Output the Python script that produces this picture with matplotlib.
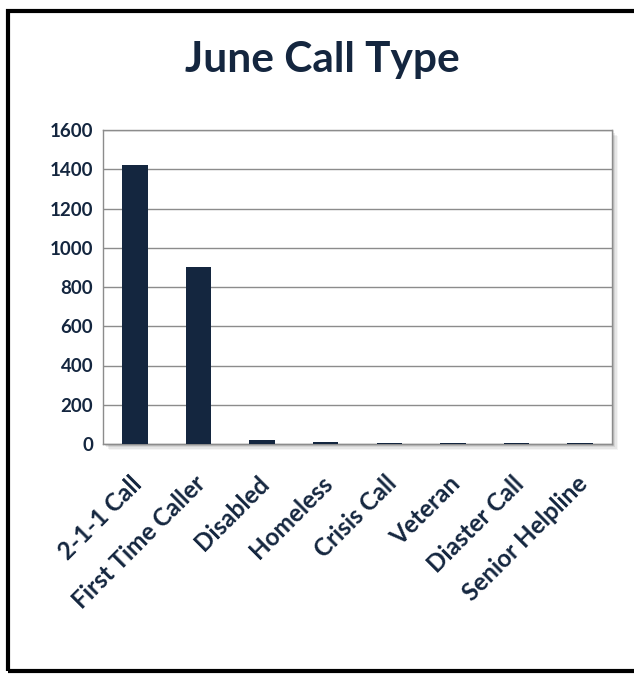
import matplotlib
matplotlib.use("Agg")
import matplotlib.pyplot as plt
from matplotlib.patches import Rectangle
from matplotlib.transforms import ScaledTranslation

categories = ["2-1-1 Call", "First Time Caller", "Disabled", "Homeless",
              "Crisis Call", "Veteran", "Diaster Call", "Senior Helpline"]
values = [1420, 902, 20, 12, 5, 5, 5, 5]
yticks = [0, 200, 400, 600, 800, 1000, 1200, 1400, 1600]

navy = "#14263f"
plt.rcParams['font.family'] = ['Lato', 'DejaVu Sans']

fig = plt.figure(figsize=(6.34, 6.75), dpi=100)
# outer frame
fig.patches.append(Rectangle((8/634, 4/675), 640/634, 660/675, transform=fig.transFigure,
                             fill=False, edgecolor="black", linewidth=3, zorder=-2))
fig.patches.append(Rectangle((8/634, 2/675), 640/634, 3/675, transform=fig.transFigure,
                             facecolor="black", edgecolor="none", zorder=-2))

l, b, w, h = 103/634, 1-444/675, (612-103)/634, (444-130)/675
# shadow of plot area
for i, a in enumerate([0.10, 0.08, 0.06, 0.04]):
    off = (i + 1) * 1.5
    fig.patches.append(Rectangle((l + off/634, b - off/675), w, h, transform=fig.transFigure,
                                 facecolor="black", alpha=a, edgecolor="none", zorder=-1))
ax = fig.add_axes([l, b, w, h])
ax.set_zorder(1)
ax.set_facecolor("white")
x = range(len(categories))
ax.bar(x, values, width=0.4, color=navy, zorder=3)
ax.set_xlim(-0.5, len(categories) - 0.5)
ax.set_ylim(0, 1600)
ax.set_yticks(yticks)
ax.set_yticklabels([str(v) for v in yticks], fontsize=13.5, fontweight='bold', color=navy)
ax.set_xticks(list(x))
ax.set_xticklabels(categories, rotation=45, ha='right', rotation_mode='anchor',
                   fontsize=17.5, fontweight='bold', color=navy)
ax.tick_params(axis='y', length=0, pad=7)
ax.tick_params(axis='x', length=0, pad=20)
shift = ScaledTranslation(-5/100, 0, fig.dpi_scale_trans)
for lab in ax.get_xticklabels():
    lab.set_transform(lab.get_transform() + shift)
ax.grid(axis='y', color="#8c8c8c", linewidth=1, zorder=0)
for s in ax.spines.values():
    s.set_color("#8c8c8c")
    s.set_linewidth(1)

fig.text(322/634, 1-60/675, "June Call Type", ha='center', va='center',
         fontsize=30.5, fontweight='bold', color=navy)

fig.savefig("out.png", dpi=100)
